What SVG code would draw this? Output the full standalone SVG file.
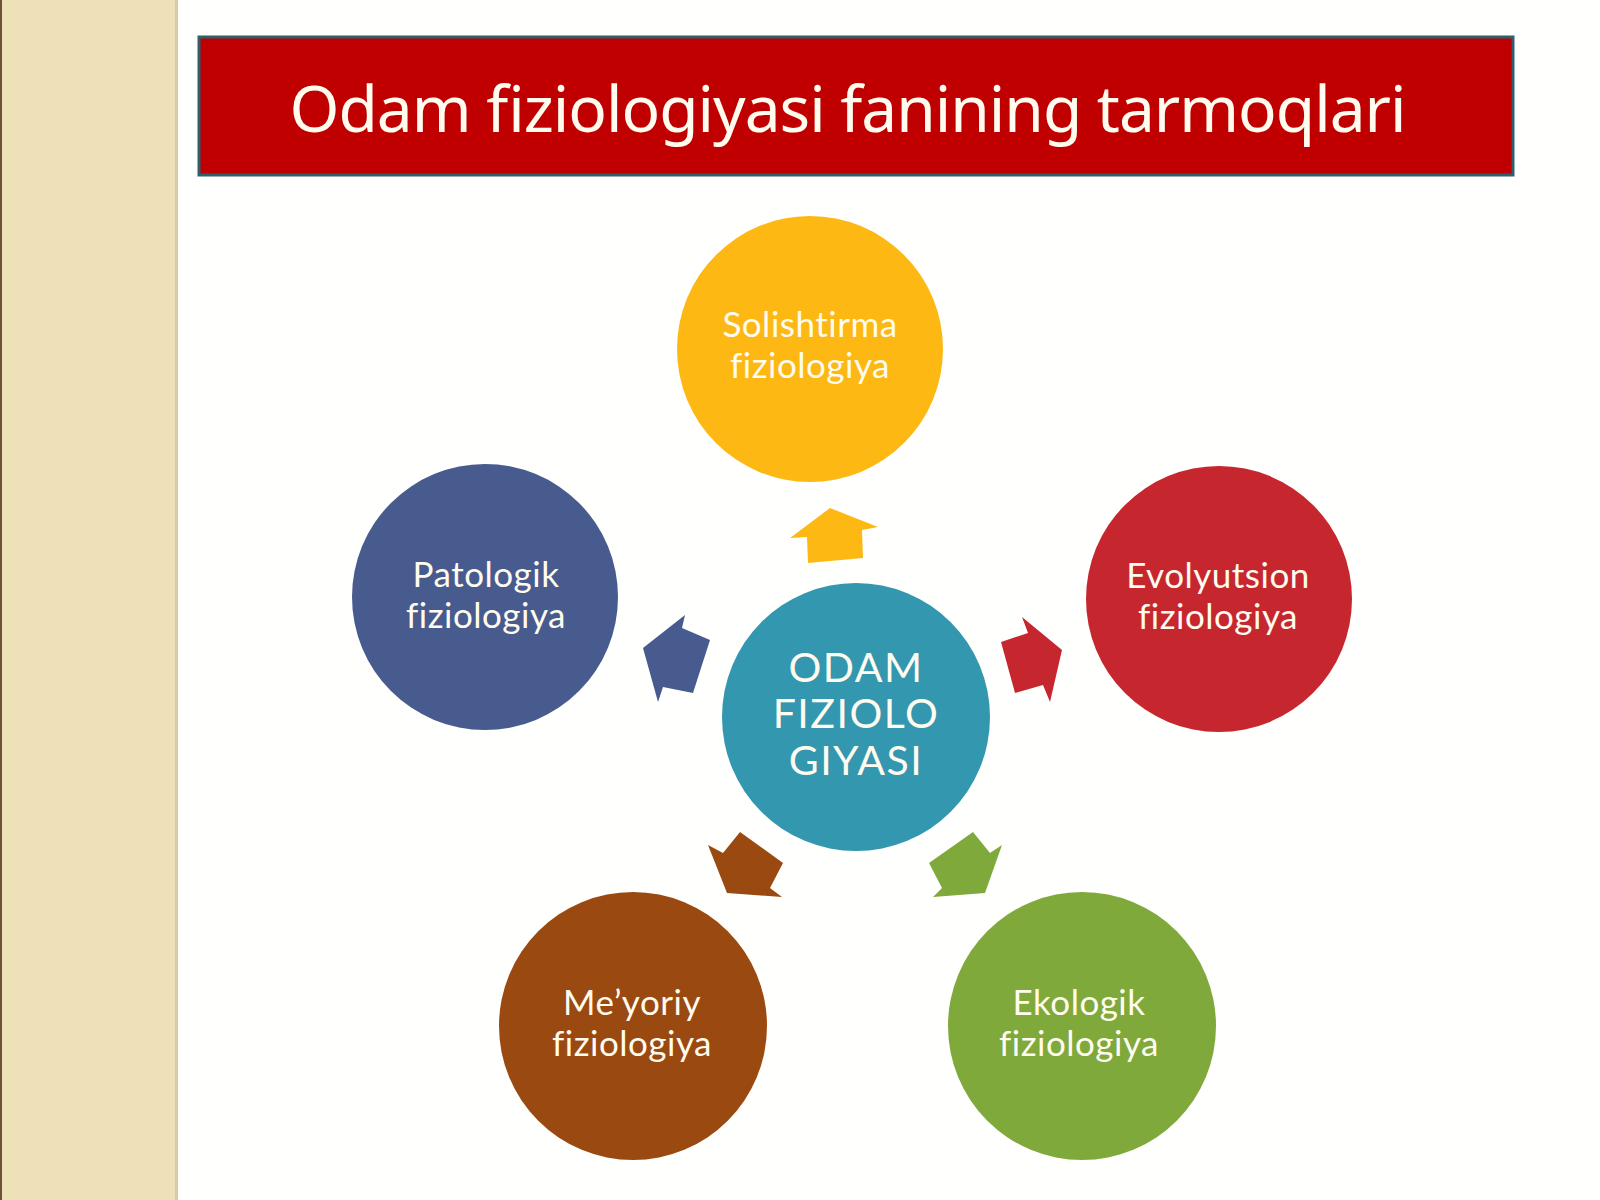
<svg xmlns="http://www.w3.org/2000/svg" width="1600" height="1200" viewBox="0 0 1600 1200">
<defs>
<style>
.lbl{font-family:Lato,"Noto Sans",sans-serif;font-size:35px;fill:#FFFBEF;text-anchor:middle;font-variant-ligatures:none;letter-spacing:0.5px}
.ctr{font-family:Lato,"Noto Sans",sans-serif;font-size:41px;fill:#FFFBEF;text-anchor:middle;letter-spacing:1.5px}
.ttl{font-family:"Noto Sans","Open Sans",sans-serif;font-size:64px;fill:#FFFBEF;text-anchor:middle}
</style>
</defs>
<rect x="0" y="0" width="1600" height="1200" fill="#FFFFFE"/>
<rect x="0" y="0" width="178" height="1200" fill="#EFE1B7"/>
<rect x="0" y="0" width="2" height="1200" fill="#6B5238"/>
<rect x="175" y="0" width="3" height="1200" fill="#D8CBA6"/>
<g id="title">
<rect x="199" y="37" width="1314" height="138" fill="#C00000" stroke="#2F5E6C" stroke-width="3"/>
<text class="ttl" x="848" y="132" textLength="1117">Odam fiziologiyasi fanining tarmoqlari</text>
</g>
<g id="connectors">
<polygon fill="#FDB813" points="830,508 878,527 862,530 863,558 808,563 807,537 790,538"/>
<polygon fill="#485B8E" points="643,648 685,615 682,628 710,640 693,693 663,687 658,702"/>
<polygon fill="#C6272F" points="1022,617 1062,650 1050,702 1043,685 1015,693 1001,642 1028,633"/>
<polygon fill="#9A4A10" points="740,832 783,863 770,888 782,897 727,893 708,845 723,853"/>
<polygon fill="#80A93B" points="973,832 990,853 1002,845 985,893 933,897 942,888 929,863"/>
</g>
<g id="solishtirma">
<circle cx="810" cy="349" r="133" fill="#FDB813"/>
<text class="lbl" x="810" y="337">Solishtirma</text>
<text class="lbl" x="810" y="378">fiziologiya</text>
</g>
<g id="patologik">
<circle cx="485" cy="597" r="133" fill="#485B8E"/>
<text class="lbl" x="486" y="587">Patologik</text>
<text class="lbl" x="486" y="628">fiziologiya</text>
</g>
<g id="evolyutsion">
<circle cx="1219" cy="599" r="133" fill="#C6272F"/>
<text class="lbl" x="1218" y="588">Evolyutsion</text>
<text class="lbl" x="1218" y="629">fiziologiya</text>
</g>
<g id="odam">
<circle cx="856" cy="717" r="134" fill="#3397AF"/>
<text class="ctr" x="856" y="682">ODAM</text>
<text class="ctr" x="856" y="728">FIZIOLO</text>
<text class="ctr" x="856" y="775">GIYASI</text>
</g>
<g id="meyoriy">
<circle cx="633" cy="1026" r="134" fill="#9A4A10"/>
<text class="lbl" x="632" y="1015">Me’yoriy</text>
<text class="lbl" x="632" y="1056">fiziologiya</text>
</g>
<g id="ekologik">
<circle cx="1082" cy="1026" r="134" fill="#80A93B"/>
<text class="lbl" x="1079" y="1015">Ekologik</text>
<text class="lbl" x="1079" y="1056">fiziologiya</text>
</g>
</svg>
